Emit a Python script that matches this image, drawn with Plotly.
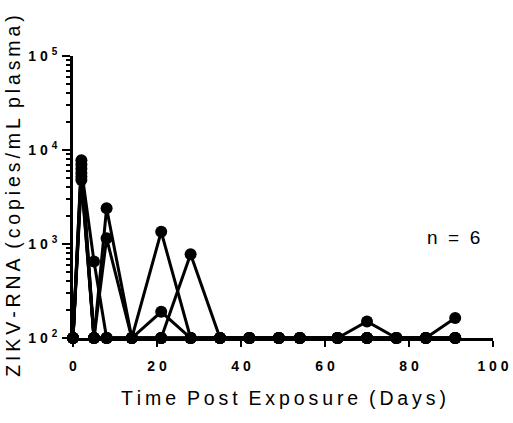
import plotly.graph_objects as go

days = [0, 2, 5, 8, 14, 21, 28, 35, 42, 49, 54, 63, 70, 77, 84, 91]
animal_1 = [100, 7800, 100, 2400, 100, 1350, 100, 100, 100, 100, 100, 100, 150, 100, 100, 100]
animal_2 = [100, 7000, 100, 1150, 100, 190, 100, 100, 100, 100, 100, 100, 100, 100, 100, 163]
animal_3 = [100, 6300, 650, 100, 100, 100, 780, 100, 100, 100, 100, 100, 100, 100, 100, 100]
animal_4 = [100, 5700, 100, 100, 100, 100, 100, 100, 100, 100, 100, 100, 100, 100, 100, 100]
animal_5 = [100, 5200, 100, 100, 100, 100, 100, 100, 100, 100, 100, 100, 100, 100, 100, 100]
animal_6 = [100, 4800, 100, 100, 100, 100, 100, 100, 100, 100, 100, 100, 100, 100, 100, 100]
animals = [animal_1, animal_2, animal_3, animal_4, animal_5, animal_6]

x_ticks = [0, 20, 40, 60, 80, 100]
y_ticks = [100, 1000, 10000, 100000]
y_exps = ["2", "3", "4", "5"]
minor_mult = [2, 3, 4, 5, 6, 7, 8, 9]
minor_vals = [m * d for d in y_ticks[:-1] for m in minor_mult]

TS = "\u2009"
def spaced(s, sep=TS):
    return sep.join(list(s))

FONT = "Liberation Sans, Arial, sans-serif"

fig = go.Figure()
for vals in animals:
    fig.add_trace(go.Scatter(
        x=days, y=vals, mode="lines+markers",
        line=dict(color="black", width=3),
        marker=dict(color="black", size=12),
        cliponaxis=False, showlegend=False))

fig.update_layout(
    width=513, height=423,
    margin=dict(l=73, r=20, t=56, b=85, autoexpand=False),
    plot_bgcolor="white", paper_bgcolor="white",
    font=dict(family=FONT, color="black"),
    xaxis=dict(
        range=[0, 100], showgrid=False, zeroline=False, automargin=False,
        showline=True, linecolor="black", linewidth=3,
        ticks="outside", ticklen=6, tickwidth=2, tickcolor="black",
        tickvals=x_ticks, ticktext=["<b>" + spaced(str(t), " ") + "</b>" for t in x_ticks],
        tickfont=dict(size=14, family=FONT),
        ticklabelstandoff=7,
    ),
    yaxis=dict(
        type="log", range=[2, 5], showgrid=False, zeroline=False, automargin=False,
        showline=True, linecolor="black", linewidth=3,
        ticks="outside", ticklen=8, tickwidth=2, tickcolor="black",
        tickvals=y_ticks,
        ticktext=["<b>1 0</b> <sup><span style='font-size:10px'><b>" + e + "</b></span></sup>" for e in y_exps],
        tickfont=dict(size=14, family=FONT),
        ticklabelstandoff=2,
        minor=dict(tickmode="array", tickvals=minor_vals, ticks="outside", ticklen=4,
                   tickwidth=1.5, tickcolor="black", showgrid=False),
    ),
    annotations=[
        dict(text=spaced("Time") + "  " + spaced("Post") + "  " + spaced("Exposure") + "  " + spaced("(Days)"),
             xref="paper", yref="paper", x=0.502, y=-0.213, xanchor="center", yanchor="middle",
             showarrow=False, font=dict(size=19.5, family=FONT)),
        dict(text=spaced("ZIKV-RNA") + "  " + spaced("(copies/mL") + "  " + spaced("plasma)"),
             xref="paper", yref="paper", x=-0.143, y=0.504, xanchor="center", yanchor="middle",
             textangle=-90, showarrow=False, font=dict(size=19.5, family=FONT)),
        dict(text="n  =  6", xref="paper", yref="paper", x=0.905, y=0.355,
             xanchor="center", yanchor="middle", showarrow=False, font=dict(size=19, family=FONT)),
    ],
)

fig.write_html("out.html")
